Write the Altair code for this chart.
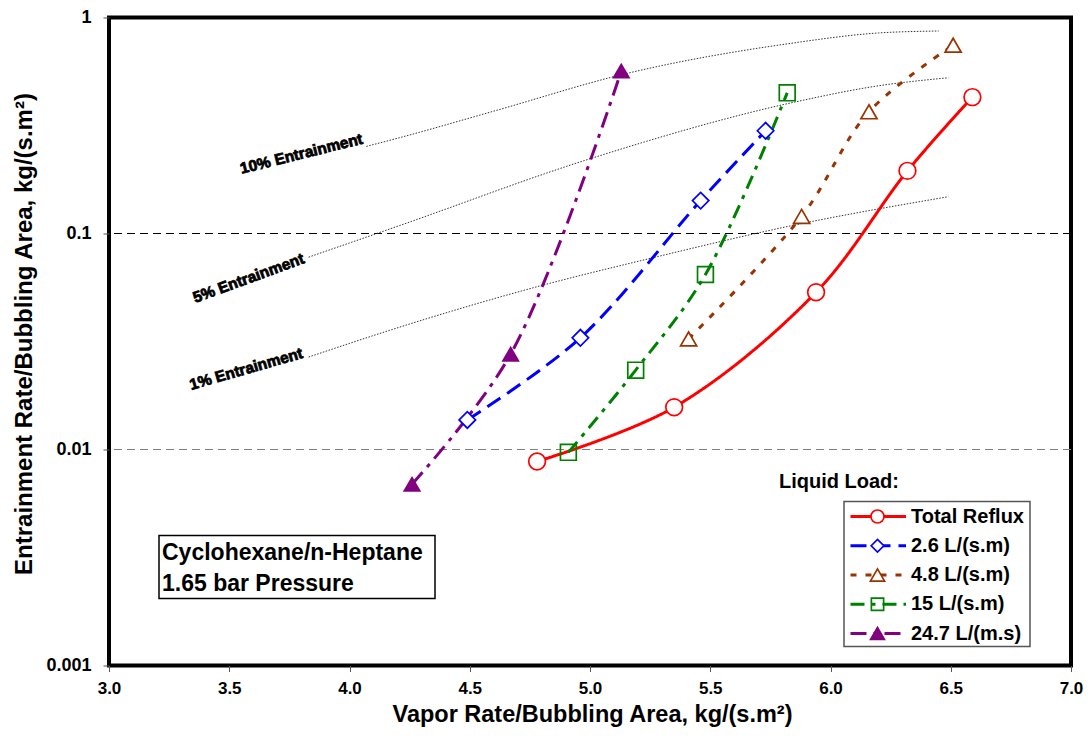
import altair as alt
import pandas as pd

# ---------------- data ----------------
SERIES = ["Total Reflux", "2.6 L/(s.m)", "4.8 L/(s.m)", "15 L/(s.m)", "24.7 L/(m.s)"]

REFLUX_X = [4.78, 5.35, 5.94, 6.32, 6.59]
REFLUX_Y = [0.0088, 0.0157, 0.0535, 0.195, 0.428]
L26_X = [4.49, 4.96, 5.46, 5.73]
L26_Y = [0.0137, 0.0329, 0.142, 0.299]
L48_X = [5.41, 5.88, 6.16, 6.51]
L48_Y = [0.0325, 0.120, 0.366, 0.744]
L15_X = [4.91, 5.19, 5.48, 5.82]
L15_Y = [0.0097, 0.0233, 0.0646, 0.448]
L247_X = [4.26, 4.67, 5.13]
L247_Y = [0.0069, 0.0276, 0.565]

ENTRAIN_NAMES = ["10% Entrainment", "5% Entrainment", "1% Entrainment"]
E10_X = [4.07, 4.21, 4.62, 5.13, 5.82, 6.20, 6.45]
E10_Y = [0.253, 0.278, 0.374, 0.543, 0.755, 0.848, 0.866]
E5_X = [3.83, 4.21, 4.99, 5.86, 6.20, 6.49]
E5_Y = [0.0777, 0.109, 0.220, 0.408, 0.483, 0.526]
E1_X = [3.83, 4.21, 4.79, 5.24, 5.86, 6.49]
E1_Y = [0.0268, 0.0369, 0.0571, 0.0762, 0.110, 0.148]

LABEL_X = [3.80, 3.58, 3.57]
LABEL_Y = [0.234, 0.0621, 0.0236]

GRID_MAJOR = [0.1]
GRID_MINOR = [0.01]
X_TICKS = [3.0, 3.5, 4.0, 4.5, 5.0, 5.5, 6.0, 6.5, 7.0]
Y_TICKS = [0.001, 0.01, 0.1, 1]

X_TITLE = "Vapor Rate/Bubbling Area, kg/(s.m\u00b2)"
Y_TITLE = "Entrainment Rate/Bubbling Area, kg/(s.m\u00b2)"
LEGEND_TITLE = "Liquid Load:"
NOTE_LINES = ["Cyclohexane/n-Heptane", "1.65 bar Pressure"]

# ---------------- styling ----------------
COLORS = ["#FF0000", "#0000FF", "#993300", "#008000", "#800080"]
DASHES = [[1, 0], [16, 8], [6, 9], [14, 7, 4, 7], [16, 7, 4, 7]]
SHAPES = ["circle", "diamond", "triangle-up", "square", "triangle-up"]
FILLS = ["white", "white", "white", "transparent", "#800080"]
SIZES = [280, 240, 320, 240, 320]
LEG_SIZES = [170, 160, 200, 150, 190]
LABEL_ANGLES = [346, 340, 344]

ARIAL = "Liberation Sans, Arial, sans-serif"

W, H = 962, 648

# ---------------- tables ----------------
rows = []
for name, xs, ys in zip(SERIES, [REFLUX_X, L26_X, L48_X, L15_X, L247_X],
                        [REFLUX_Y, L26_Y, L48_Y, L15_Y, L247_Y]):
    for xv, yv in zip(xs, ys):
        rows.append({"series": name, "x": xv, "y": yv})
df = pd.DataFrame(rows)

erows = []
for name, xs, ys in zip(ENTRAIN_NAMES, [E10_X, E5_X, E1_X], [E10_Y, E5_Y, E1_Y]):
    for xv, yv in zip(xs, ys):
        erows.append({"curve": name, "x": xv, "y": yv})
edf = pd.DataFrame(erows)

x_scale = alt.Scale(domain=[3, 7], nice=False, zero=False)
y_scale = alt.Scale(type="log", domain=[0.001, 1], nice=False)

x_axis = alt.Axis(values=X_TICKS, format=".1f", domain=False, grid=False,
                  tickSize=6, tickColor="#555555", tickWidth=1,
                  labelFont=ARIAL, labelFontSize=17, labelFontWeight="bold",
                  labelColor="black", labelPadding=9, labelFlush=False,
                  titleFont=ARIAL, titleFontSize=23.5, titleFontWeight="bold",
                  titleColor="black", titleX=483, titleY=49,
                  titleBaseline="middle", titleAlign="center")
y_axis = alt.Axis(values=Y_TICKS, format="~g", domain=False, grid=False,
                  tickSize=6, tickColor="#555555", tickWidth=1,
                  labelFont=ARIAL, labelFontSize=18, labelFontWeight="bold",
                  labelColor="black", labelPadding=12, labelFlush=False,
                  titleFont=ARIAL, titleFontSize=24, titleFontWeight="bold",
                  titleColor="black", titleX=-85, titleY=316, titleAngle=270,
                  titleBaseline="middle", titleAlign="center")

X = alt.X("x:Q", scale=x_scale, axis=x_axis, title=X_TITLE)
Y = alt.Y("y:Q", scale=y_scale, axis=y_axis, title=Y_TITLE)

color_s = alt.Scale(domain=SERIES, range=COLORS)
dash_s = alt.Scale(domain=SERIES, range=DASHES)
shape_s = alt.Scale(domain=SERIES, range=SHAPES)
fill_s = alt.Scale(domain=SERIES, range=FILLS)
size_s = alt.Scale(domain=SERIES, range=SIZES)

C = alt.Color("series:N", scale=color_s, legend=None)
D = alt.StrokeDash("series:N", scale=dash_s, legend=None)
S = alt.Shape("series:N", scale=shape_s, legend=None)
F = alt.Fill("series:N", scale=fill_s, legend=None)

layers = []

# dashed horizontal reference lines
layers.append(alt.Chart(pd.DataFrame({"y": GRID_MAJOR})).mark_rule(
    strokeDash=[8, 5], strokeWidth=1.2, color="#000000").encode(y=Y))
layers.append(alt.Chart(pd.DataFrame({"y": GRID_MINOR})).mark_rule(
    strokeDash=[8, 5], strokeWidth=1.2, color="#808080").encode(y=Y))

# entrainment curves
layers.append(alt.Chart(edf).mark_line(
    strokeDash=[1.5, 1.5], strokeWidth=1, color="#333333", interpolate="monotone"
).encode(x=X, y=Y, detail="curve:N"))

# entrainment labels (heavy look)
ldf = pd.DataFrame({"x": LABEL_X, "y": LABEL_Y, "t": ENTRAIN_NAMES})
for i, name in enumerate(ENTRAIN_NAMES):
    layers.append(alt.Chart(ldf).transform_filter(alt.datum.t == name).mark_text(
        angle=LABEL_ANGLES[i], font=ARIAL, fontSize=15.5, fontWeight="bold",
        color="black", stroke="black", strokeWidth=0.8,
        align="center", baseline="middle"
    ).encode(x=X, y=Y, text="t:N"))

# data series
base = alt.Chart(df)
layers.append(base.mark_line(strokeWidth=3, interpolate="catmull-rom").encode(
    x=X, y=Y, color=C, strokeDash=D))
layers.append(base.mark_point(strokeWidth=1.7, opacity=1, fillOpacity=1).encode(
    x=X, y=Y, color=C, shape=S, fill=F,
    size=alt.Size("series:N", scale=size_s, legend=None)))

# note box
one = pd.DataFrame({"a": [0]})
layers.append(alt.Chart(one).mark_rect(fill="white", stroke="black", strokeWidth=1.5).encode(
    x=alt.value(50), x2=alt.value(326), y=alt.value(518), y2=alt.value(581)))
for i, line in enumerate(NOTE_LINES):
    layers.append(alt.Chart(one).mark_text(
        align="left", baseline="middle", font=ARIAL, fontSize=23, fontWeight="bold",
        color="black").encode(x=alt.value(53), y=alt.value(535 + 31.5 * i),
                              text=alt.value(line)))

# legend
layers.append(alt.Chart(one).mark_text(
    align="left", baseline="middle", font=ARIAL, fontSize=20, fontWeight="bold",
    color="black").encode(x=alt.value(670), y=alt.value(464.5), text=alt.value(LEGEND_TITLE)))
layers.append(alt.Chart(one).mark_rect(fill="white", stroke="#555555", strokeWidth=1.5).encode(
    x=alt.value(735), x2=alt.value(921), y=alt.value(484), y2=alt.value(629)))
legdf = pd.DataFrame({"series": SERIES})
for i, name in enumerate(SERIES):
    yy = 499 + 29.25 * i
    lb = alt.Chart(legdf).transform_filter(alt.datum.series == name)
    layers.append(lb.mark_rule(strokeWidth=3).encode(
        x=alt.value(741.5), x2=alt.value(797), y=alt.value(yy), color=C, strokeDash=D))
    layers.append(lb.mark_point(size=LEG_SIZES[i], strokeWidth=1.7, opacity=1, fillOpacity=1).encode(
        x=alt.value(768.5), y=alt.value(yy), color=C, shape=S, fill=F))
    layers.append(lb.mark_text(align="left", baseline="middle", font=ARIAL, fontSize=20,
                               fontWeight="bold", color="black").encode(
        x=alt.value(802), y=alt.value(yy), text="series:N"))

chart = alt.layer(*layers).properties(
    width=W, height=H,
    autosize=alt.AutoSizeParams(type="none"),
    padding={"left": 101, "top": 9.5, "right": 12, "bottom": 70},
).configure_view(stroke="black", strokeWidth=4)

chart.save("out.html", embed_options={"renderer": "svg", "actions": False})
